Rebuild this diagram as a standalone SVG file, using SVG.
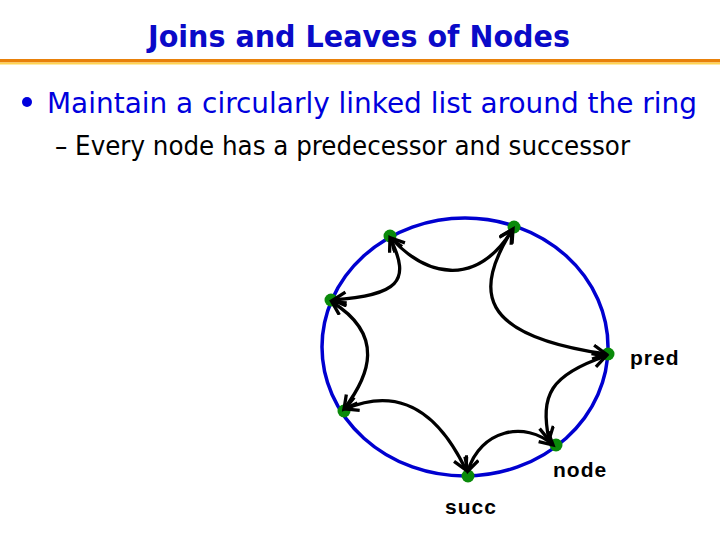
<svg xmlns="http://www.w3.org/2000/svg" width="720" height="540" viewBox="0 0 720 540">
<style>
.title{font-family:"DejaVu Sans Condensed","DejaVu Sans",sans-serif;font-weight:bold;font-size:30px;fill:#0a0ac8}
.bul{font-family:"DejaVu Sans Condensed","DejaVu Sans",sans-serif;font-size:29px;fill:#0000dd}
.sub{font-family:"DejaVu Sans Condensed","DejaVu Sans",sans-serif;font-size:26px;fill:#000}
.lbl{font-family:"Liberation Sans",Arial,sans-serif;font-weight:bold;font-size:21px;fill:#000;letter-spacing:1px}
.dot{fill:#0a8a0a}
.link{fill:none;stroke:#000;stroke-width:3.3;marker-start:url(#ah);marker-end:url(#ah)}
</style>
<defs>
<marker id="ah" markerUnits="userSpaceOnUse" markerWidth="20" markerHeight="20" refX="14" refY="8" orient="auto-start-reverse">
<path d="M1,1 L14,8 L1,15" fill="none" stroke="#000" stroke-width="3.3"/>
</marker>
</defs>
<rect width="720" height="540" fill="#fff"/>
<text class="title" x="148" y="47" textLength="422" lengthAdjust="spacingAndGlyphs">Joins and Leaves of Nodes</text>
<rect x="0" y="59" width="720" height="3.5" fill="#e8800a"/>
<rect x="0" y="62.5" width="720" height="2" fill="#ffd450"/>
<circle cx="27" cy="102" r="5" fill="#0000dd"/>
<text class="bul" x="47" y="113" textLength="650" lengthAdjust="spacingAndGlyphs">Maintain a circularly linked list around the ring</text>
<text class="sub" x="55" y="155" textLength="575" lengthAdjust="spacingAndGlyphs">– Every node has a predecessor and successor</text>
<g id="ring"><ellipse cx="465" cy="347" rx="143" ry="129" fill="none" stroke="#0000d0" stroke-width="3.5"/></g>
<g id="nA"><circle class="dot" cx="390" cy="236" r="6.5"/></g>
<g id="nB"><circle class="dot" cx="514" cy="227" r="6.5"/></g>
<g id="nC"><circle class="dot" cx="331" cy="300" r="6.5"/></g>
<g id="pred"><circle class="dot" cx="608" cy="354" r="6.5"/><text class="lbl" x="630" y="365">pred</text></g>
<g id="nE"><circle class="dot" cx="344" cy="411" r="6.5"/></g>
<g id="succ"><circle class="dot" cx="468" cy="476" r="6.5"/><text class="lbl" x="445" y="514">succ</text></g>
<g id="node"><circle class="dot" cx="556" cy="445" r="6.5"/><text class="lbl" x="553" y="477">node</text></g>
<g id="connectors">
<path class="link" d="M391,238 C425,275 475,290 513,229"/>
<path class="link" d="M390,238 C412,282 398,295 333,300"/>
<path class="link" d="M332,302 C385,335 370,375 344,409"/>
<path class="link" d="M345,409 C385,392 430,395 466,470"/>
<path class="link" d="M468,471 C480,430 525,420 553,445"/>
<path class="link" d="M549,440 C540,395 550,375 606,356"/>
<path class="link" d="M606,354 C475,335 475,290 512,230"/>
</g>
</svg>
